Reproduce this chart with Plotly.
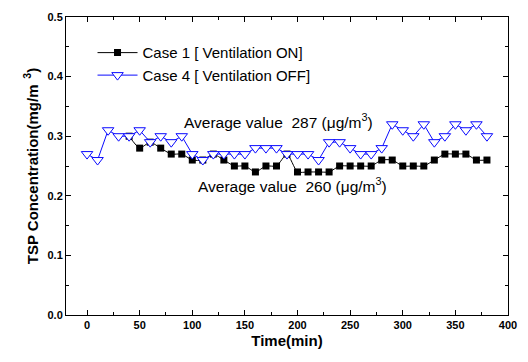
import plotly.graph_objects as go

time_case4 = list(range(0, 390, 10))
tsp_case4 = [0.27, 0.26, 0.31, 0.30, 0.30, 0.31, 0.29, 0.30, 0.29, 0.30,
             0.27, 0.26, 0.27, 0.27, 0.27, 0.27, 0.28, 0.28, 0.28, 0.27,
             0.27, 0.27, 0.26, 0.29, 0.29, 0.28, 0.27, 0.27, 0.28, 0.32,
             0.31, 0.30, 0.32, 0.29, 0.30, 0.32, 0.31, 0.32, 0.30]

time_case1 = list(range(40, 390, 10))
tsp_case1 = [0.30, 0.28, 0.29, 0.28, 0.27, 0.27, 0.26, 0.26, 0.27, 0.26,
             0.25, 0.25, 0.24, 0.25, 0.25, 0.27, 0.24, 0.24, 0.24, 0.24,
             0.25, 0.25, 0.25, 0.25, 0.26, 0.26, 0.25, 0.25, 0.25, 0.26,
             0.27, 0.27, 0.27, 0.26, 0.26]

FONT = "Arial, Liberation Sans, sans-serif"
BLUE = "#0a0aff"

fig = go.Figure()
fig.add_trace(go.Scatter(
    x=time_case1, y=tsp_case1, mode="lines+markers",
    name="Case 1 [ Ventilation ON]",
    line=dict(color="black", width=1, shape="spline", smoothing=0.6),
    marker=dict(symbol="square", size=7, color="black"),
))
fig.add_trace(go.Scatter(
    x=time_case4, y=tsp_case4, mode="lines+markers",
    name="Case 4 [ Ventilation OFF]",
    line=dict(color=BLUE, width=1),
    marker=dict(symbol="triangle-down", size=10, color="white",
                line=dict(color=BLUE, width=1)),
))

axis_common = dict(
    showline=True, linecolor="black", linewidth=1, mirror="ticks",
    ticks="inside", ticklen=5, tickcolor="black", tickwidth=1,
    showgrid=False, zeroline=False,
    tickfont=dict(family=FONT, size=11, color="black", weight="bold"),
)

fig.update_xaxes(
    range=[-20, 400], dtick=50, tick0=0,
    minor=dict(ticks="inside", ticklen=3, dtick=25, tick0=0, tickcolor="black"),
    title=dict(text="Time(min)", font=dict(family=FONT, size=15, color="black", weight="bold"), standoff=5),
    **axis_common,
)
fig.update_yaxes(
    range=[0, 0.5], dtick=0.1, tickformat=".1f",
    minor=dict(ticks="inside", ticklen=3, dtick=0.05, tickcolor="black"),
    title=dict(text="TSP Concentration(mg/m<sup>  3</sup>)", font=dict(family=FONT, size=15, color="black", weight="bold"), standoff=5),
    **axis_common,
)

fig.add_annotation(x=0.262, y=0.326, xref="paper", yref="y", xanchor="left", yanchor="middle",
                   text="Average value  287 (μg/m<sup>3</sup>)", showarrow=False,
                   font=dict(family=FONT, size=15.5, color="black"))
fig.add_annotation(x=0.294, y=0.218, xref="paper", yref="y", xanchor="left", yanchor="middle",
                   text="Average value  260 (μg/m<sup>3</sup>)", showarrow=False,
                   font=dict(family=FONT, size=15.5, color="black"))

fig.update_layout(
    width=528, height=362,
    margin=dict(l=66, r=17, t=11, b=47),
    paper_bgcolor="white", plot_bgcolor="white",
    showlegend=True,
    legend=dict(x=0.06, y=0.935, xanchor="left", yanchor="top",
                bgcolor="rgba(0,0,0,0)", borderwidth=0,
                font=dict(family=FONT, size=15, color="black"),
                tracegroupgap=0, itemwidth=40),
)

fig.write_html("out.html")
